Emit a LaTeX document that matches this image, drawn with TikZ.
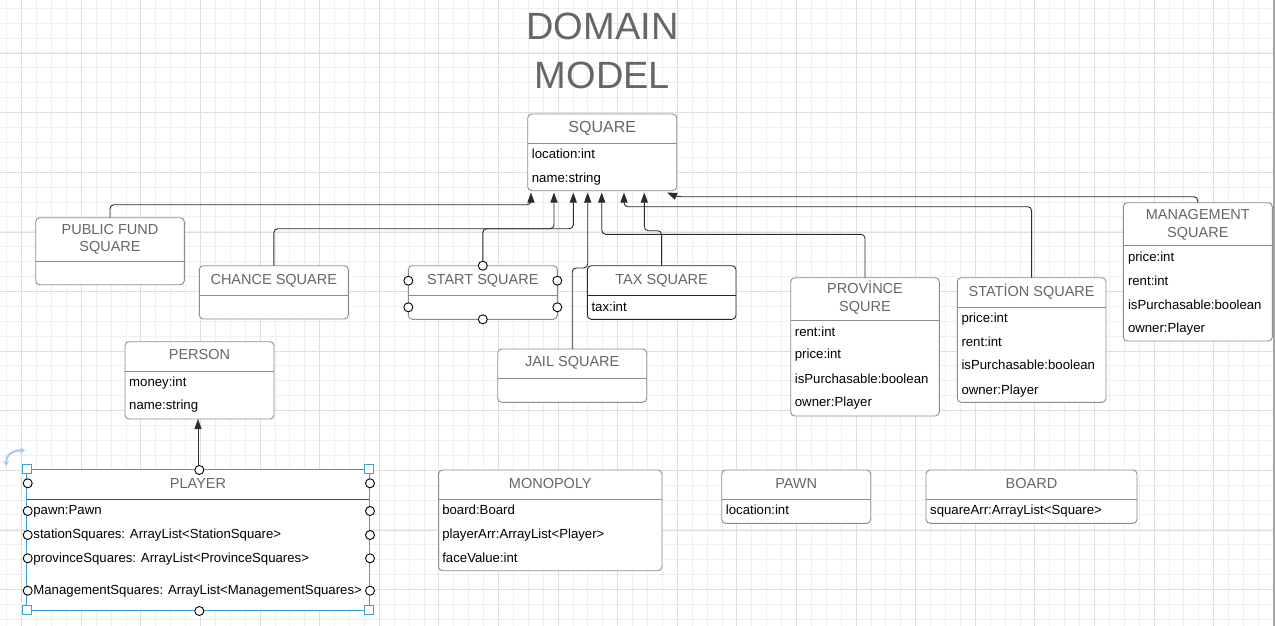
\documentclass[tikz,border=0pt]{standalone}
\usepackage{fontspec}
\setmainfont{Liberation Sans}
\usetikzlibrary{arrows.meta,positioning}
\definecolor{gridminor}{HTML}{EFEFEF}
\definecolor{gridmajor}{HTML}{DEDEDE}
\definecolor{boxline}{HTML}{8C8C8C}
\definecolor{headgray}{HTML}{666666}
\definecolor{linecol}{HTML}{2B2B2B}
\definecolor{selblue}{HTML}{3BA1DD}
\definecolor{rotblue}{HTML}{A9C8EC}
\definecolor{edgegray}{HTML}{A3A3A3}
\begin{document}
\begin{tikzpicture}[
    x=1pt, y=-1pt,
    classbox/.style={draw=boxline, line width=0.9pt, rounded corners=4pt, fill=white, inner sep=0pt, outer sep=0pt, anchor=north west},
    divline/.style={draw=boxline, line width=0.9pt},
    headtext/.style={text=headgray, font=\fontsize{14.5}{17}\selectfont, inner sep=0pt, text height=10.4pt, text depth=0pt},
    titletext/.style={text=headgray, font=\fontsize{38}{44}\selectfont, inner sep=0pt, text height=27pt, text depth=0pt},
    attr/.style={text=black, font=\fontsize{13.2}{15}\selectfont, inner sep=0pt, anchor=west, text height=9.5pt, text depth=0pt},
    genline/.style={draw=linecol, line width=0.9pt, rounded corners=4pt, -{Triangle[width=7pt,length=10pt]}},
    handle/.style={circle, draw=black, fill=white, line width=0.9pt, inner sep=0pt, minimum size=9pt},
    cornerhandle/.style={rectangle, draw=selblue, fill=white, line width=1pt, inner sep=0pt, minimum size=9pt},
    rotarrow/.style={draw=rotblue, line width=2pt, {Stealth[length=5pt,width=6pt]}-{Stealth[length=5pt,width=6pt]}}
]
    \useasboundingbox (0,0) rectangle (1275,626);
    \fill[white] (0,0) rectangle (1275,626);
    \foreach \i in {0,...,84}
        \draw[gridminor, line width=1pt] (6.8+14.9*\i,0) -- (6.8+14.9*\i,626);
    \foreach \j in {0,...,41}
        \draw[gridminor, line width=1pt] (0,8.3+14.9*\j) -- (1273,8.3+14.9*\j);
    \foreach \i in {0,...,20}
        \draw[gridmajor, line width=1pt] (21.7+59.6*\i,0) -- (21.7+59.6*\i,626);
    \foreach \j in {0,...,9}
        \draw[gridmajor, line width=1pt] (0,53.3+59.6*\j) -- (1273,53.3+59.6*\j);
    \fill[edgegray] (1273,0) rectangle (1275,626);

    \node[titletext] (title1) at (602.5,26.3) {DOMAIN};
    \node[titletext] (title2) at (602.5,75) {MODEL};

    \node[classbox, minimum width=149pt, minimum height=76.7pt] (square) at (527.7,114) {};
    \node[headtext, font=\fontsize{16}{19}\selectfont, text height=11.5pt] (squaret) at ([yshift=-12.7pt]square.north) {SQUARE};
    \draw[divline] ([yshift=-29.3pt]square.north west) -- ([yshift=-29.3pt]square.north east);
    \foreach \t/\dy [count=\i] in {location:int/39.3, name:string/63.3}
        \node[attr] (squarea\i) at ([shift={(4,\dy)}]square.north west) {\t};

    \node[classbox, minimum width=148.6pt, minimum height=67pt] (pubfund) at (35.7,217.7) {};
    \node[headtext] (pubfundt1) at ([yshift=-11.6pt]pubfund.north) {PUBLIC FUND};
    \node[headtext] (pubfundt2) at ([yshift=-29pt]pubfund.north) {SQUARE};
    \draw[divline] ([yshift=-43.3pt]pubfund.north west) -- ([yshift=-43.3pt]pubfund.north east);

    \node[classbox, minimum width=149pt, minimum height=53.3pt] (chance) at (199.3,265.7) {};
    \node[headtext] (chancet) at ([yshift=-13.3pt]chance.north) {CHANCE SQUARE};
    \draw[divline] ([yshift=-29.6pt]chance.north west) -- ([yshift=-29.6pt]chance.north east);

    \node[classbox, minimum width=149pt, minimum height=53.6pt] (start) at (408.3,265.7) {};
    \node[headtext] (startt) at ([yshift=-13.3pt]start.north) {START SQUARE};
    \draw[divline] ([yshift=-29.3pt]start.north west) -- ([yshift=-29.3pt]start.north east);

    \node[classbox, draw=black!85, minimum width=148.7pt, minimum height=53.6pt] (tax) at (587.3,265.7) {};
    \node[headtext] (taxt) at ([yshift=-13.3pt]tax.north) {TAX SQUARE};
    \draw[divline, draw=black!85] ([yshift=-29.3pt]tax.north west) -- ([yshift=-29.3pt]tax.north east);
    \node[attr] (taxa1) at ([shift={(4,41)}]tax.north west) {tax:int};

    \node[classbox, minimum width=149pt, minimum height=53.3pt] (jail) at (497.7,349) {};
    \node[headtext] (jailt) at ([yshift=-12.7pt]jail.north) {JAIL SQUARE};
    \draw[divline] ([yshift=-29.3pt]jail.north west) -- ([yshift=-29.3pt]jail.north east);

    \node[classbox, minimum width=148.6pt, minimum height=138.3pt] (province) at (790.7,277.7) {};
    \node[headtext] (provincet1) at ([yshift=-10.6pt]province.north) {PROVİNCE};
    \node[headtext] (provincet2) at ([yshift=-28.3pt]province.north) {SQURE};
    \draw[divline] ([yshift=-42.3pt]province.north west) -- ([yshift=-42.3pt]province.north east);
    \foreach \t/\dy [count=\i] in {rent:int/54, price:int/76.3, isPurchasable:boolean/100.6, owner:Player/124}
        \node[attr] (provincea\i) at ([shift={(4,\dy)}]province.north west) {\t};

    \node[classbox, minimum width=148.7pt, minimum height=124.6pt] (station) at (957.3,277.7) {};
    \node[headtext] (stationt) at ([yshift=-13.3pt]station.north) {STATİON SQUARE};
    \draw[divline] ([yshift=-29.3pt]station.north west) -- ([yshift=-29.3pt]station.north east);
    \foreach \t/\dy [count=\i] in {price:int/39.6, rent:int/64, isPurchasable:boolean/87.3, owner:Player/111.6}
        \node[attr] (stationa\i) at ([shift={(4,\dy)}]station.north west) {\t};

    \node[classbox, minimum width=149pt, minimum height=138.3pt] (mgmt) at (1123.3,202.7) {};
    \node[headtext] (mgmtt1) at ([yshift=-11.3pt]mgmt.north) {MANAGEMENT};
    \node[headtext] (mgmtt2) at ([yshift=-29.6pt]mgmt.north) {SQUARE};
    \draw[divline] ([yshift=-43pt]mgmt.north west) -- ([yshift=-43pt]mgmt.north east);
    \foreach \t/\dy [count=\i] in {price:int/54, rent:int/78, isPurchasable:boolean/102.3, owner:Player/124.6}
        \node[attr] (mgmta\i) at ([shift={(4.5,\dy)}]mgmt.north west) {\t};

    \node[classbox, minimum width=149pt, minimum height=77.3pt] (person) at (125,341.7) {};
    \node[headtext] (persont) at ([yshift=-12.3pt]person.north) {PERSON};
    \draw[divline] ([yshift=-30pt]person.north west) -- ([yshift=-30pt]person.north east);
    \foreach \t/\dy [count=\i] in {money:int/40, name:string/63.3}
        \node[attr] (persona\i) at ([shift={(4,\dy)}]person.north west) {\t};

    \node[classbox, draw=selblue, sharp corners, minimum width=342.6pt, minimum height=141pt] (player) at (26.7,469) {};
    \node[headtext] (playert) at ([yshift=-14.3pt]player.north) {PLAYER};
    \draw[divline, draw=black!70] ([yshift=-30.3pt]player.north west) -- ([yshift=-30.3pt]player.north east);
    \foreach \t/\dy [count=\i] in {pawn:Pawn/41, stationSquares: ArrayList<StationSquare>/64.3,
            provinceSquares: ArrayList<ProvinceSquares>/88.3, ManagementSquares: ArrayList<ManagementSquares>/120.3}
        \node[attr] (playera\i) at ([shift={(6.5,\dy)}]player.north west) {\t};

    \node[classbox, minimum width=223.4pt, minimum height=100.7pt] (monopoly) at (438.6,470) {};
    \node[headtext] (monopolyt) at ([yshift=-13.3pt]monopoly.north) {MONOPOLY};
    \draw[divline] ([yshift=-29pt]monopoly.north west) -- ([yshift=-29pt]monopoly.north east);
    \foreach \t/\dy [count=\i] in {board:Board/39.3, playerArr:ArrayList<Player>/63.3, faceValue:int/87.7}
        \node[attr] (monopolya\i) at ([shift={(3.5,\dy)}]monopoly.north west) {\t};

    \node[classbox, minimum width=149pt, minimum height=53.3pt, right=59.7pt of monopoly.north east, anchor=north west] (pawn) {};
    \node[headtext] (pawnt) at ([yshift=-13.3pt]pawn.north) {PAWN};
    \draw[divline] ([yshift=-29pt]pawn.north west) -- ([yshift=-29pt]pawn.north east);
    \node[attr] (pawna1) at ([shift={(4,40)}]pawn.north west) {location:int};

    \node[classbox, minimum width=211pt, minimum height=53.3pt, right=55.3pt of pawn.north east, anchor=north west] (board) {};
    \node[headtext] (boardt) at ([yshift=-13.3pt]board.north) {BOARD};
    \draw[divline] ([yshift=-29pt]board.north west) -- ([yshift=-29pt]board.north east);
    \node[attr] (boarda1) at ([shift={(4,40)}]board.north west) {squareArr:ArrayList<Square>};

    \foreach \xx [count=\i] in {531,554,573.3,587.7,601.7,624,644.3}
        \coordinate (sqin\i) at (\xx,192.5);
    \coordinate (sqbend) at (677,196.7);
    \coordinate (sqin8) at (667,192.5);

    \draw[genline] (pubfund.north) -- ++(0,-13) -| (sqin1);
    \draw[genline] (chance.north) -- ++(0,-37) -| (sqin2);
    \draw[genline] (start.north) -- ++(0,-37) -| (sqin3);
    \draw[genline] (jail.north) -- ++(0,-81) -| (sqin4);
    \draw[genline] (province.north) -- ++(0,-43.4) -| (sqin5);
    \draw[genline] (station.north) -- ++(0,-71) -| (sqin6);
    \draw[genline] (tax.north) -- ++(0,-35) -| (sqin7);
    \draw[genline] (mgmt.north) |- (sqbend) -- (sqin8);
    \draw[genline] (player.north) -- (player.north |- person.south);

    \node[handle] (sth1) at (start.north) {};
    \node[handle] (sth2) at (start.south) {};
    \node[handle] (sth3) at ([yshift=-15pt]start.north west) {};
    \node[handle] (sth4) at ([yshift=-41.6pt]start.north west) {};
    \node[handle] (sth5) at ([yshift=-15pt]start.north east) {};
    \node[handle] (sth6) at ([yshift=-41.6pt]start.north east) {};

    \foreach \dy [count=\i] in {14.3,42,66,89.3,121.7} {
        \node[handle] (plh\i) at ([shift={(1,\dy)}]player.north west) {};
        \node[handle] (prh\i) at ([shift={(0.7,\dy)}]player.north east) {};
    }
    \node[handle] (pth) at ([shift={(1.3,1)}]player.north) {};
    \node[handle] (pbh) at ([shift={(1.3,1)}]player.south) {};
    \foreach \a/\n in {north west/a, north east/b, south west/c, south east/d}
        \node[cornerhandle] (pch\n) at (player.\a) {};
    \draw[rotarrow] (6.5,466) .. controls (5.5,455) and (13,450) .. (25,450.5);
\end{tikzpicture}
\end{document}
